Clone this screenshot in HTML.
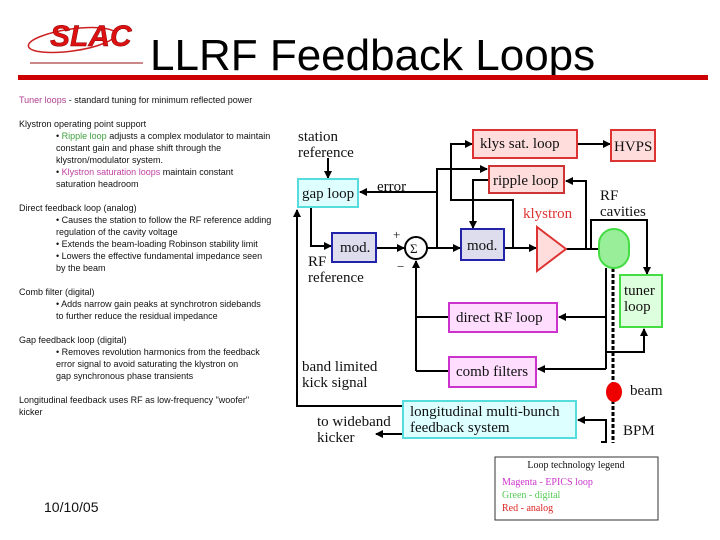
<!DOCTYPE html>
<html><head><meta charset="utf-8"><style>
body{margin:0;width:720px;height:540px;background:#fff;overflow:hidden}
svg{display:block}
.s{font-family:"Liberation Sans",sans-serif;font-size:9px;fill:#111}
.d{font-family:"Liberation Serif",serif;font-size:15px;fill:#111}
</style></head><body>
<svg width="720" height="540" viewBox="0 0 720 540">
<defs><marker id="a" markerWidth="8" markerHeight="8" refX="7" refY="4" orient="auto" markerUnits="userSpaceOnUse"><path d="M0,0L8,4L0,8z" fill="#000"/></marker></defs>
<!-- logo -->
<ellipse cx="72" cy="40" rx="44" ry="11" fill="none" stroke="#c22" stroke-width="1.5" transform="rotate(-8 72 40)"/>
<text x="50" y="46" font-family="Liberation Sans" font-weight="bold" font-style="italic" font-size="30" fill="#d11" stroke="#800" stroke-width="0.5">SLAC</text>
<rect x="30" y="62" width="113" height="2" fill="#c88"/>
<text x="150" y="70" font-family="Liberation Sans" font-size="44" fill="#000">LLRF Feedback Loops</text>
<rect x="18" y="75" width="690" height="5" fill="#c00"/>
<!-- left text -->
<g class="s">
<text x="19" y="103"><tspan fill="#b04090">Tuner loops</tspan> - standard tuning for minimum reflected power</text>
<text x="19" y="127">Klystron operating point support</text>
<text x="56" y="139">• <tspan fill="#40a040">Ripple loop</tspan> adjusts a complex modulator to maintain</text>
<text x="56" y="151">constant gain and phase shift through the</text>
<text x="56" y="163">klystron/modulator system.</text>
<text x="56" y="175">• <tspan fill="#c040a0">Klystron saturation loops</tspan> maintain constant</text>
<text x="56" y="187">saturation headroom</text>
<text x="19" y="211">Direct feedback loop (analog)</text>
<text x="56" y="223">• Causes the station to follow the RF reference adding</text>
<text x="56" y="235">regulation of the cavity voltage</text>
<text x="56" y="247">• Extends the beam-loading Robinson stability limit</text>
<text x="56" y="259">• Lowers the effective fundamental impedance seen</text>
<text x="56" y="271">by the beam</text>
<text x="19" y="295">Comb filter (digital)</text>
<text x="56" y="307">• Adds narrow gain peaks at synchrotron sidebands</text>
<text x="56" y="319">to further reduce the residual impedance</text>
<text x="19" y="343">Gap feedback loop (digital)</text>
<text x="56" y="355">• Removes revolution harmonics from the feedback</text>
<text x="56" y="367">error signal to avoid saturating the klystron on</text>
<text x="56" y="379">gap synchronous phase transients</text>
<text x="19" y="403">Longitudinal feedback uses RF as low-frequency "woofer"</text>
<text x="19" y="415">kicker</text>
</g>
<text x="44" y="512" font-family="Liberation Sans" font-size="14" fill="#111">10/10/05</text>
<!-- beam pipe -->
<line x1="613" y1="268" x2="613" y2="443" stroke="#000" stroke-width="3" stroke-dasharray="4,2"/>
<!-- connectors -->
<g stroke="#000" stroke-width="2" fill="none">
<line x1="328" y1="158" x2="328" y2="178" marker-end="url(#a)"/>
<line x1="437" y1="192" x2="360" y2="192" marker-end="url(#a)"/>
<polyline points="437,249 437,169 487,169" marker-end="url(#a)"/>
<polyline points="513,248 513,200 451,200 451,144 472,144" marker-end="url(#a)"/>
<line x1="577" y1="144" x2="610" y2="144" marker-end="url(#a)"/>
<polyline points="489,180 473,180 473,228" marker-end="url(#a)"/>
<polyline points="586,249 586,181 566,181" marker-end="url(#a)"/>
<polyline points="311,207 311,246 331,246" marker-end="url(#a)"/>
<line x1="376" y1="248" x2="404" y2="248" marker-end="url(#a)"/>
<line x1="427" y1="248" x2="460" y2="248" marker-end="url(#a)"/>
<line x1="504" y1="248" x2="536" y2="248" marker-end="url(#a)"/>
<line x1="566" y1="249" x2="599" y2="249"/>
<polyline points="591,249 591,220 647,220 647,274" marker-end="url(#a)"/>
<line x1="416" y1="371" x2="416" y2="261" marker-end="url(#a)"/>
<line x1="416" y1="317" x2="449" y2="317"/>
<line x1="416" y1="371" x2="449" y2="371"/>
<line x1="606" y1="268" x2="606" y2="369"/>
<line x1="606" y1="317" x2="559" y2="317" marker-end="url(#a)"/>
<line x1="606" y1="369" x2="538" y2="369" marker-end="url(#a)"/>
<polyline points="606,352 644,352 644,329" marker-end="url(#a)"/>
<polyline points="403,406 297,406 297,210" marker-end="url(#a)"/>
<line x1="403" y1="434" x2="376" y2="434" marker-end="url(#a)"/>
<polyline points="601,442 606,442 606,420 578,420" marker-end="url(#a)"/>
</g>
<!-- boxes -->
<g stroke-width="2">
<rect x="473" y="130" width="104" height="28" fill="#fdd" stroke="#d33"/>
<rect x="611" y="130" width="44" height="31" fill="#fdd" stroke="#d33"/>
<rect x="489" y="166" width="75" height="27" fill="#fdd" stroke="#c33"/>
<rect x="298" y="179" width="60" height="28" fill="#dff" stroke="#5dd"/>
<rect x="332" y="233" width="44" height="29" fill="#dde" stroke="#22a"/>
<circle cx="416" cy="248" r="11" fill="#fff" stroke="#000"/>
<rect x="461" y="229" width="43" height="31" fill="#dde" stroke="#22a"/>
<polygon points="537,227 566,249 537,271" fill="#fdd" stroke="#d33"/>
<rect x="599" y="229" width="30" height="39" rx="15" fill="#9e9" stroke="#4d4"/>
<rect x="620" y="275" width="42" height="52" fill="#dfd" stroke="#4d4"/>
<rect x="449" y="303" width="108" height="29" fill="#fdf" stroke="#c3c"/>
<rect x="449" y="357" width="87" height="30" fill="#fdf" stroke="#c3c"/>
<ellipse cx="614" cy="392" rx="8" ry="10" fill="#e00" stroke="none"/>
<rect x="403" y="401" width="173" height="37" fill="#dff" stroke="#5dd"/>
<rect x="495" y="457" width="163" height="63" fill="#fff" stroke="#333" stroke-width="1"/>
</g>
<!-- diagram text -->
<g class="d">
<text x="298" y="141">station</text><text x="298" y="157">reference</text>
<text x="302" y="198">gap loop</text>
<text x="377" y="191">error</text>
<text x="480" y="148">klys sat. loop</text>
<text x="614" y="151">HVPS</text>
<text x="493" y="185">ripple loop</text>
<text x="340" y="252">mod.</text>
<text x="467" y="250">mod.</text>
<text x="410" y="253" font-size="13">Σ</text>
<text x="393" y="239" font-size="13">+</text>
<text x="397" y="271" font-size="13">−</text>
<text x="308" y="266">RF</text><text x="308" y="282">reference</text>
<text x="523" y="218" fill="#d33">klystron</text>
<text x="600" y="200">RF</text><text x="600" y="216">cavities</text>
<text x="624" y="295">tuner</text><text x="624" y="311">loop</text>
<text x="456" y="322">direct RF loop</text>
<text x="456" y="376">comb filters</text>
<text x="302" y="371">band limited</text><text x="302" y="387">kick signal</text>
<text x="630" y="395">beam</text>
<text x="410" y="416">longitudinal multi-bunch</text><text x="410" y="432">feedback system</text>
<text x="317" y="426">to wideband</text><text x="317" y="442">kicker</text>
<text x="623" y="435">BPM</text>
</g>
<g font-family="Liberation Serif" font-size="10">
<text x="576" y="468" text-anchor="middle" fill="#111">Loop technology legend</text>
<text x="502" y="485" fill="#c3c">Magenta - EPICS loop</text>
<text x="502" y="498" fill="#5c5">Green - digital</text>
<text x="502" y="511" fill="#d22">Red - analog</text>
</g>
</svg>
</body></html>
